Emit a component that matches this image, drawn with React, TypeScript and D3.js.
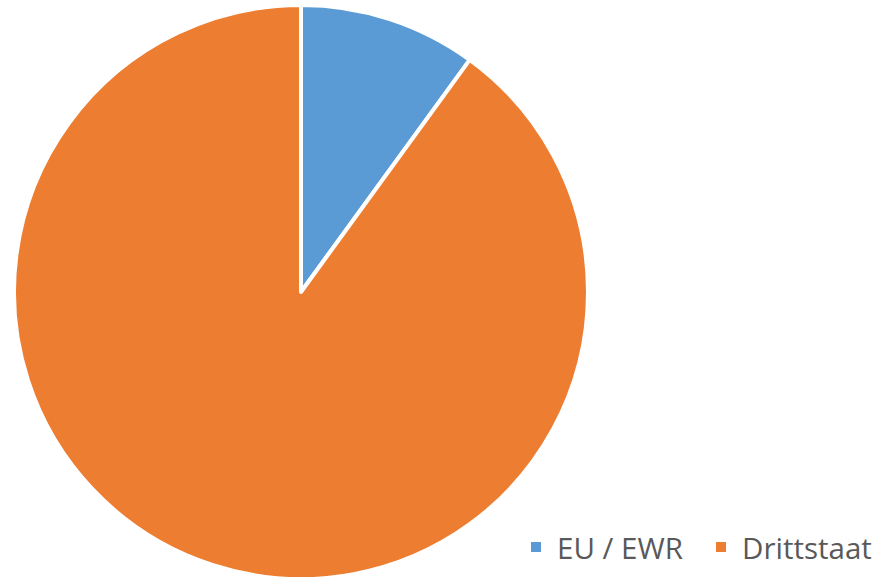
import React from "react";
import * as d3 from "d3";

const categories = ["EU / EWR", "Drittstaat"];
const values = [10, 90];
const colors = ["#5B9BD5", "#ED7D31"];

export default function App() {
  const W = 886, H = 578;
  const cx = 301, cy = 292, r = 287;
  const pie = d3.pie<number>().sort(null).value((d) => d)(values);
  const arc = d3.arc<d3.PieArcDatum<number>>().innerRadius(0).outerRadius(r);
  const legendX = [531, 716];
  return (
    <svg width={W} height={H} style={{ position: "absolute", left: 0, top: 0 }}>
      <rect width={W} height={H} fill="#fff" />
      <g transform={`translate(${cx},${cy})`}>
        {pie.map((p, i) => (
          <path key={i} d={arc(p) || ""} fill={colors[i]} stroke="#fff" strokeWidth={4} strokeLinejoin="round" />
        ))}
      </g>
      {categories.map((c, i) => (
        <g key={c}>
          <rect x={legendX[i]} y={542} width={10} height={10} fill={colors[i]} />
          <text x={legendX[i] + 26} y={559} fontFamily="'Open Sans', sans-serif" fontSize={29.5} fill="#595959" style={{ whiteSpace: "pre" }}>{c}</text>
        </g>
      ))}
    </svg>
  );
}
